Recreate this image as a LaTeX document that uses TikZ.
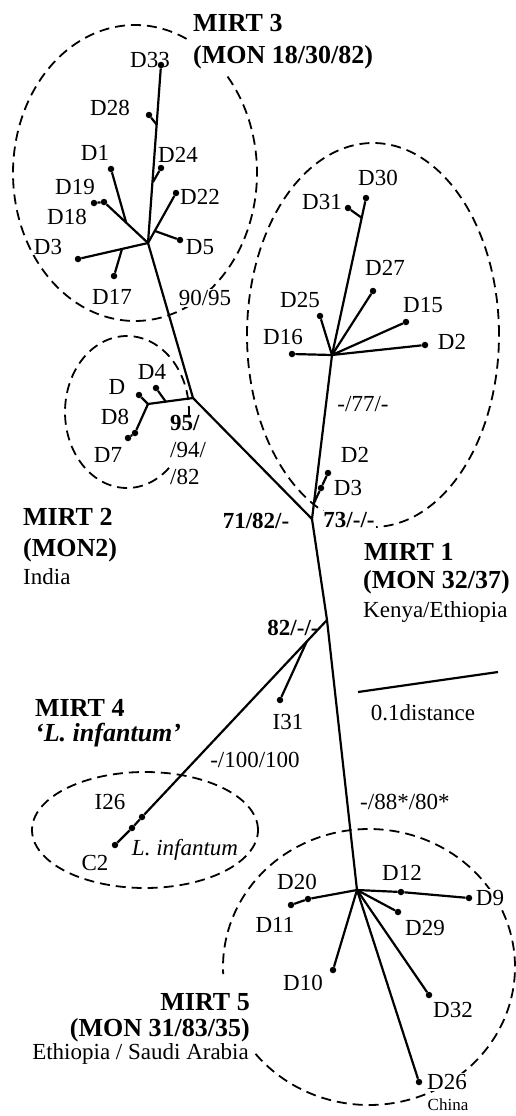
\documentclass[tikz,border=0pt]{standalone}
\usepackage{fontspec}
\setmainfont{Liberation Serif}
\usetikzlibrary{shapes,arrows,positioning,fit,calc}

\tikzset{
  leaf/.style={circle, fill=black, inner sep=0pt, minimum size=6.5pt},
  branch/.style={line width=2.2pt},
  clade/.style={line width=1.8pt, dash pattern=on 10pt off 6pt},
  leaflbl/.style={font=\fontsize{23}{27}\selectfont, text height=15.2pt, text depth=0pt, inner sep=1pt},
  bootlbl/.style={leaflbl, fill=white},
  headlbl/.style={font=\fontsize{26}{31}\selectfont\bfseries, text height=17.2pt, text depth=0pt, inner sep=0pt},
  placelbl/.style={font=\fontsize{23}{27}\selectfont, text height=15.2pt, text depth=0pt, inner sep=0pt},
}

\begin{document}
\begin{tikzpicture}[x=1pt, y=-1pt]
\useasboundingbox (0,0) rectangle (516,1116);

\draw[clade] plot[domain=65:401, samples=140, smooth] ({135+122*cos(\x)}, {173-148*sin(\x)});
\draw[clade] plot[domain=-3:313, samples=100, smooth] ({127+62*cos(\x)}, {412-76*sin(\x)});
\draw[clade] plot[domain=0:360, samples=160, smooth] ({373+126*cos(\x)}, {335-192*sin(\x)});
\draw[clade] plot[domain=0:360, samples=120, smooth] ({145+113*cos(\x)}, {830-58*sin(\x)});
\draw[clade] plot[domain=219:543, samples=140, smooth] ({369+146*cos(\x)}, {967-138*sin(\x)});

\coordinate (h3) at (148,243);
\node[leaf] (d33) at (161,65) {};
\coordinate (j28) at (157,125);
\node[leaf] (d28) at (149,115) {};
\coordinate (j24) at (153,182);
\node[leaf] (d24) at (161,168) {};
\node[leaf] (d1) at (111,169) {};
\coordinate (j1) at (126,222);
\node[leaf] (d19) at (104,202) {};
\node[leaf] (d18) at (94,203) {};
\node[leaf] (d22) at (176,193) {};
\coordinate (j5) at (155,231);
\node[leaf] (d5) at (180,240) {};
\node[leaf] (d3a) at (78,259) {};
\coordinate (j17) at (122,249);
\node[leaf] (d17) at (114,276) {};

\coordinate (j2) at (193,398);
\coordinate (h2) at (148,404);
\coordinate (j4) at (166,402);
\node[leaf] (d4) at (156,388) {};
\node[leaf] (dd) at (139,395) {};
\node[leaf] (d8) at (135,433) {};
\node[leaf] (d7) at (128,438) {};

\coordinate (j3) at (312,519);
\coordinate (h1) at (332,355);
\coordinate (jd) at (314,503);
\node[leaf] (d3b) at (321,488) {};
\node[leaf] (d2b) at (328,473) {};
\node[leaf] (d16) at (292,354) {};
\node[leaf] (d25) at (320,316) {};
\node[leaf] (d27) at (373,291) {};
\node[leaf] (d15) at (406,322) {};
\node[leaf] (d2a) at (425,345) {};
\node[leaf] (d30) at (366,198) {};
\coordinate (j31) at (362,218);
\node[leaf] (d31) at (348,208) {};

\coordinate (j6) at (327,620);
\coordinate (ji31) at (307,641);
\node[leaf] (i31) at (280,700) {};
\node[leaf] (i26a) at (142,817) {};
\node[leaf] (i26b) at (132,828) {};
\node[leaf] (c2) at (115,845) {};

\coordinate (h5) at (357,890);
\node[leaf] (d20) at (308,899) {};
\node[leaf] (d11) at (291,905) {};
\node[leaf] (d12) at (401,892) {};
\node[leaf] (d9) at (469,898) {};
\node[leaf] (d29) at (398,912) {};
\node[leaf] (d10) at (333,970) {};
\node[leaf] (d32) at (429,995) {};
\node[leaf] (d26) at (419,1082) {};

\coordinate (sb1) at (358,692);
\coordinate (sb2) at (498,672);

\draw[branch] (d33) -- (h3);
\draw[branch] (j28) -- (d28);
\draw[branch] (j24) -- (d24);
\draw[branch] (d18) -- (d19) -- (h3);
\draw[branch] (j1) -- (d1);
\draw[branch] (d22) -- (h3);
\draw[branch] (j5) -- (d5);
\draw[branch] (d3a) -- (h3);
\draw[branch] (j17) -- (d17);
\draw[branch] (h3) -- (j2) -- (h2);
\draw[branch] (j4) -- (d4);
\draw[branch] (h2) -- (dd);
\draw[branch] (h2) -- (d8) -- (d7);
\draw[branch] (j2) -- (j3) -- (h1);
\draw[branch] (jd) -- (d3b) -- (d2b);
\draw[branch] (h1) -- (d16);
\draw[branch] (h1) -- (d25);
\draw[branch] (h1) -- (d27);
\draw[branch] (h1) -- (d15);
\draw[branch] (h1) -- (d2a);
\draw[branch] (h1) -- (d30);
\draw[branch] (j31) -- (d31);
\draw[branch] (j3) -- (j6) -- (h5);
\draw[branch] (j6) -- (i26a) -- (i26b) -- (c2);
\draw[branch] (ji31) -- (i31);
\draw[branch] (h5) -- (d20) -- (d11);
\draw[branch] (h5) -- (d12) -- (d9);
\draw[branch] (h5) -- (d29);
\draw[branch] (h5) -- (d10);
\draw[branch] (h5) -- (d32);
\draw[branch] (h5) -- (d26);
\draw[branch] (sb1) -- (sb2);

\node[leaflbl] (t33) at (150,60) {D33};
\node[leaflbl] (t28) at (110,108) {D28};
\node[leaflbl] (t24) at (178,155) {D24};
\node[leaflbl] (t1) at (95,153) {D1};
\node[leaflbl] (t19) at (75,187) {D19};
\node[leaflbl] (t18) at (67,217) {D18};
\node[leaflbl] (t22) at (200,197) {D22};
\node[leaflbl] (t5) at (200,247) {D5};
\node[leaflbl] (t3a) at (48,247) {D3};
\node[leaflbl] (t17) at (112,297) {D17};
\node[bootlbl] (b9095) at (205,298) {90/95};

\node[leaflbl] (t4) at (152,372) {D4};
\node[leaflbl] (tdd) at (117,387) {D};
\node[leaflbl] (t8) at (115,417) {D8};
\node[leaflbl] (t7) at (108,455) {D7};
\node[leaflbl, anchor=west] (b95) at (169,423) {\bfseries 95/};
\node[leaflbl, anchor=west] (b94) at (169,450) {/94/};
\node[leaflbl, anchor=west] (b82) at (169,477) {/82};

\node[leaflbl] (t30) at (378,178) {D30};
\node[leaflbl] (t31) at (322,202) {D31};
\node[leaflbl] (t27) at (385,268) {D27};
\node[leaflbl] (t25) at (300,300) {D25};
\node[leaflbl] (t15) at (423,305) {D15};
\node[leaflbl] (t16) at (283,337) {D16};
\node[leaflbl] (t2a) at (452,342) {D2};
\node[leaflbl] (b77) at (363,404) {-/77/-};
\node[leaflbl] (t2b) at (355,455) {D2};
\node[leaflbl] (t3b) at (348,488) {D3};
\node[bootlbl] (b73) at (349,520) {\bfseries 73/-/-};
\node[leaflbl] (b71) at (256,521) {\bfseries 71/82/-};

\node[headlbl, anchor=west] (m3a) at (193,23) {MIRT 3};
\node[headlbl, anchor=west] (m3b) at (193,55) {(MON 18/30/82)};
\node[headlbl, anchor=west] (m2a) at (23,517) {MIRT 2};
\node[headlbl, anchor=west] (m2b) at (23,548) {(MON2)};
\node[placelbl, anchor=west] (m2c) at (23,577) {India};
\node[headlbl, anchor=west] (m1a) at (364,552) {MIRT 1};
\node[headlbl, anchor=west] (m1b) at (363,580) {(MON 32/37)};
\node[placelbl, anchor=west] (m1c) at (363,610) {Kenya/Ethiopia};

\node[leaflbl] (b82x) at (293,628) {\bfseries 82/-/-};
\node[leaflbl] (sblbl) at (423,713) {0.1distance};
\node[leaflbl] (t31i) at (288,722) {I31};
\node[headlbl, anchor=west] (m4a) at (35,708) {MIRT 4};
\node[headlbl, anchor=west] (m4b) at (35,733) {\itshape ‘L. infantum’};
\node[leaflbl] (b100) at (255,760) {-/100/100};
\node[leaflbl, anchor=west] (b88) at (359,802) {-/88*/80*};
\node[leaflbl] (t26i) at (110,802) {I26};
\node[leaflbl] (tc2) at (95,863) {C2};
\node[leaflbl] (tinf) at (185,848) {\itshape L. infantum};

\node[leaflbl] (t20) at (297,882) {D20};
\node[leaflbl] (t11) at (275,925) {D11};
\node[leaflbl] (t12) at (402,873) {D12};
\node[bootlbl] (t9) at (490,898) {D9};
\node[leaflbl] (t29) at (425,928) {D29};
\node[leaflbl] (t10) at (303,983) {D10};
\node[leaflbl] (t32) at (453,1010) {D32};
\node[bootlbl] (t26) at (447,1082) {D26};
\node[font=\fontsize{17}{20}\selectfont, fill=white, inner sep=1pt] (tchina) at (448,1105) {China};
\node[headlbl, anchor=east] (m5a) at (250,1002) {MIRT 5};
\node[headlbl, anchor=east] (m5b) at (250,1028) {(MON 31/83/35)};
\node[placelbl, anchor=east] (m5c) at (249,1052) {Ethiopia / Saudi Arabia};
\end{tikzpicture}
\end{document}
